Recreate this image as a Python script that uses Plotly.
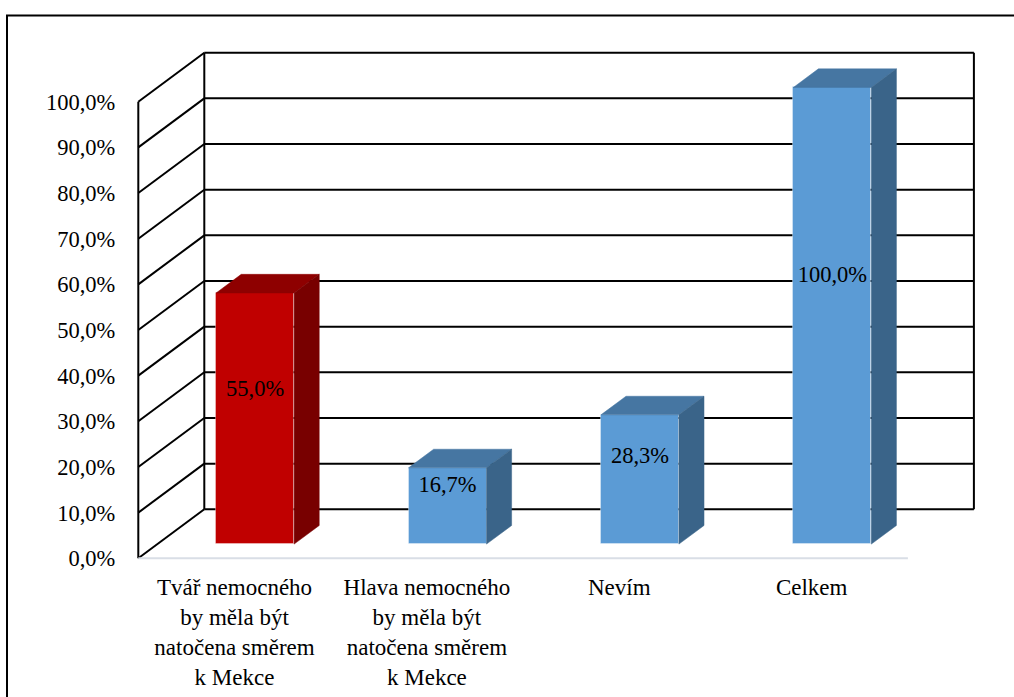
import plotly.graph_objects as go

# ---------------- data ----------------
categories = [
    "Tvář nemocného<br>by měla být<br>natočena směrem<br>k Mekce",
    "Hlava nemocného<br>by měla být<br>natočena směrem<br>k Mekce",
    "Nevím",
    "Celkem",
]
values = [55.0, 16.7, 28.3, 100.0]
front_colors = ["#C00000", "#5B9BD5", "#5B9BD5", "#5B9BD5"]
top_colors = ["#8E0000", "#4676A2", "#4676A2", "#4676A2"]
side_colors = ["#780000", "#3A6489", "#3A6489", "#3A6489"]
y_ticks = [0, 10, 20, 30, 40, 50, 60, 70, 80, 90, 100]

# ---------------- geometry (oblique 3D projection) ----------------
W, H = 1014, 697
CAT_PX = 192.4          # px per category
Y_PX = 4.566            # px per percent
ORIGIN_X = 138.3        # px of front-left floor corner
ORIGIN_Y = 558.3        # px (from top) of 0 %
WALL_DX = 66 / CAT_PX   # wall depth shift in category units
WALL_DY = 49 / Y_PX     # wall depth shift in percent units
BAR_FRONT = 0.29        # bar front plane (fraction of wall depth)
BAR_DEPTH = 0.38        # bar depth (fraction of wall depth)
BAR_W = 78 / CAT_PX

x0 = -0.5 - ORIGIN_X / CAT_PX
x1 = x0 + W / CAT_PX
y1 = ORIGIN_Y / Y_PX
y0 = -(H - ORIGIN_Y) / Y_PX

n = len(categories)
xl, xr = -0.5, n - 0.5
ymax = max(y_ticks)

FONT = "Liberation Serif"
fig = go.Figure()

# walls / grid drawn as shapes below the traces
shapes = []
line_black = dict(color="black", width=2)
for t in y_ticks:
    shapes.append(dict(type="line", xref="x", yref="y", layer="below",
                       x0=xl + WALL_DX, x1=xr + WALL_DX, y0=t + WALL_DY, y1=t + WALL_DY,
                       line=line_black))
    shapes.append(dict(type="line", xref="x", yref="y", layer="below",
                       x0=xl, x1=xl + WALL_DX, y0=t, y1=t + WALL_DY, line=line_black))
for (xa, ya, yb) in [(xl, 0, ymax), (xl + WALL_DX, WALL_DY, ymax + WALL_DY),
                     (xr + WALL_DX, WALL_DY, ymax + WALL_DY)]:
    shapes.append(dict(type="line", xref="x", yref="y", layer="below",
                       x0=xa, x1=xa, y0=ya, y1=yb, line=line_black))
shapes.append(dict(type="line", xref="x", yref="y", layer="below",
                   x0=xl, x1=xr, y0=0, y1=0, line=dict(color="#D9DEE6", width=2)))
# outer frame (top and left visible)
shapes.append(dict(type="path", xref="paper", yref="paper",
                   path=f"M {7/W} 0 L {7/W} {1-15.5/H} L 1 {1-15.5/H}",
                   line=dict(color="black", width=2)))

fdx = BAR_FRONT * WALL_DX
fdy = BAR_FRONT * WALL_DY
ddx = BAR_DEPTH * WALL_DX
ddy = BAR_DEPTH * WALL_DY
centers = [i + fdx + 1.5 / CAT_PX for i in range(n)]

# front faces
fig.add_trace(go.Bar(
    x=centers, y=values, base=[fdy] * n, width=BAR_W,
    marker=dict(color=front_colors, line=dict(color="rgba(255,255,255,0.35)", width=1)),
    hoverinfo="skip", showlegend=False,
))

# top and side faces
for i, v in enumerate(values):
    L = centers[i] - BAR_W / 2
    R = centers[i] + BAR_W / 2
    b = fdy
    t = fdy + v
    fig.add_trace(go.Scatter(
        x=[L, R, R + ddx, L + ddx, L], y=[t, t, t + ddy, t + ddy, t],
        mode="lines", fill="toself", fillcolor=top_colors[i],
        line=dict(color=top_colors[i], width=0.5), hoverinfo="skip", showlegend=False))
    fig.add_trace(go.Scatter(
        x=[R, R + ddx, R + ddx, R, R], y=[b, b + ddy, t + ddy, t, b],
        mode="lines", fill="toself", fillcolor=side_colors[i],
        line=dict(color=side_colors[i], width=0.5), hoverinfo="skip", showlegend=False))

# data labels
label_text = [f"{v:.1f}".replace(".", ",") + "%" for v in values]
fig.add_trace(go.Scatter(
    x=centers, y=[6.45 + 0.553 * v for v in values], mode="text", text=label_text,
    textfont=dict(family=FONT, size=22.5, color="black"),
    hoverinfo="skip", showlegend=False))

fig.update_layout(
    width=W, height=H,
    margin=dict(l=0, r=0, t=0, b=0),
    paper_bgcolor="white", plot_bgcolor="white",
    shapes=shapes,
    bargap=0,
    font=dict(family=FONT, color="black"),
    xaxis=dict(range=[x0, x1], domain=[0, 1], anchor="free", position=(H - ORIGIN_Y) / H,
               tickmode="array", tickvals=list(range(n)), ticktext=categories,
               showgrid=False, zeroline=False, showline=False, ticks="",
               ticklabelstandoff=13, automargin=False,
               tickfont=dict(family=FONT, size=23, color="black")),
    yaxis=dict(range=[y0, y1], domain=[0, 1], anchor="free", position=ORIGIN_X / W,
               tickmode="array", tickvals=y_ticks,
               ticktext=[f"{t:.1f}".replace(".", ",") + "%" for t in y_ticks],
               showgrid=False, zeroline=False, showline=False, ticks="",
               ticklabelstandoff=23, automargin=False,
               tickfont=dict(family=FONT, size=22.5, color="black")),
)

fig.write_html("out.html")
